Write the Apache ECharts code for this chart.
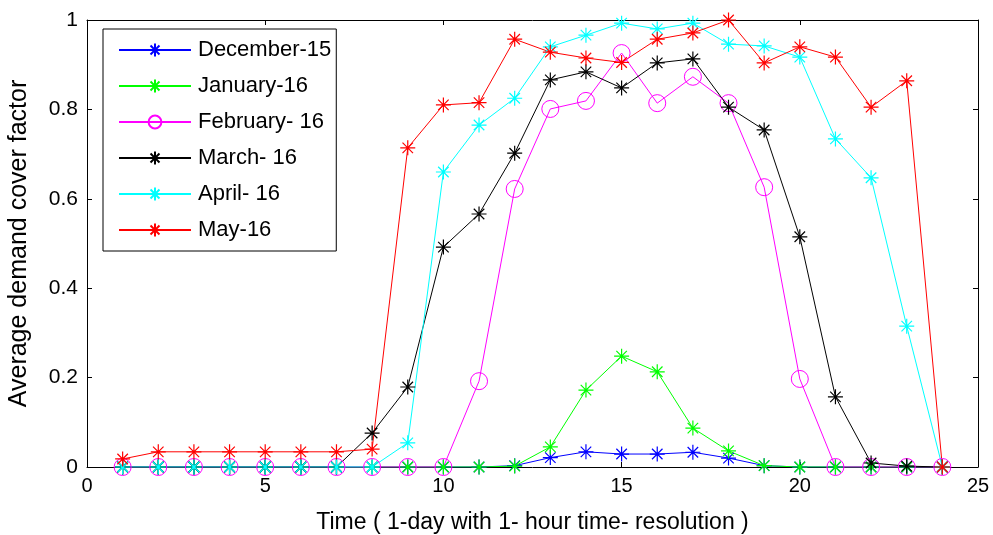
<!DOCTYPE html>
<html><head><meta charset="utf-8">
<script src="https://cdn.jsdelivr.net/npm/echarts@6/dist/echarts.min.js"></script>
<style>html,body{margin:0;padding:0;background:#fff}#c{width:993px;height:535px}</style>
</head><body><div id="c"></div>
<script>
const hours = [1,2,3,4,5,6,7,8,9,10,11,12,13,14,15,16,17,18,19,20,21,22,23,24];
const dec15 = [0,0,0,0,0,0,0,0,0,0,0,0.003,0.021,0.034,0.029,0.029,0.033,0.02,0.003,0,0,0,0,0];
const jan16 = [0,0,0,0,0,0,0,0,0,0,0,0.002,0.045,0.172,0.248,0.213,0.087,0.036,0.003,0,0,0,0,0];
const feb16 = [0,0,0,0,0,0,0,0,0,0,0.192,0.622,0.801,0.819,0.926,0.814,0.873,0.814,0.626,0.197,0,0,0,0];
const mar16 = [0,0,0,0,0,0,0,0.076,0.179,0.492,0.566,0.702,0.866,0.884,0.848,0.904,0.913,0.805,0.754,0.515,0.157,0.009,0.002,0];
const apr16 = [0,0,0,0,0,0,0,0,0.054,0.66,0.765,0.825,0.94,0.966,0.993,0.98,0.993,0.946,0.942,0.917,0.734,0.647,0.315,0];
const may16 = [0.018,0.034,0.034,0.034,0.034,0.034,0.034,0.04,0.714,0.81,0.815,0.957,0.928,0.915,0.905,0.957,0.971,1.0,0.904,0.94,0.917,0.805,0.864,0];
const seriesNames = ['December-15','January-16','February- 16','March- 16','April- 16','May-16'];
const seriesData = [dec15, jan16, feb16, mar16, apr16, may16];
const seriesColors = ['#0000ff','#00ff00','#ff00ff','#000000','#00ffff','#ff0000'];
const xTicks = [0,5,10,15,20,25];
const yTicks = [0,0.2,0.4,0.6,0.8,1];

const star = 'path://M0,5L10,5M5,0L5,10M1.5,1.5L8.5,8.5M1.5,8.5L8.5,1.5';
const font = 'Liberation Sans, Arial, sans-serif';
const chart = echarts.init(document.getElementById('c'));
const axisCommon = {
  axisLine:{show:true,onZero:false,lineStyle:{color:'#000',width:1}},
  axisTick:{show:true,inside:true,length:5,lineStyle:{color:'#000'}},
  splitLine:{show:false}
};
chart.setOption({
  animation:false,
  backgroundColor:'#fff',
  grid:{left:87,right:15,top:20,bottom:68,show:false,containLabel:false,outerBoundsMode:'none'},
  legend:{
    orient:'vertical',left:103,top:29,
    data:seriesNames,
    backgroundColor:'#fff',borderColor:'#000',borderWidth:1,borderRadius:0,
    padding:[10,5,10,15],itemWidth:72,itemHeight:16,itemGap:14,
    textStyle:{fontFamily:font,fontSize:22,lineHeight:22,color:'#000',padding:[0,0,0,2]}
  },
  xAxis:[
    Object.assign({type:'value',min:0,max:25,interval:5,position:'bottom',
      name:'Time ( 1-day with 1- hour time- resolution )',nameLocation:'middle',nameGap:44,
      nameTextStyle:{fontFamily:font,fontSize:23,color:'#000'},
      axisLabel:{fontFamily:font,fontSize:20,color:'#000',margin:9,formatter:v=>xTicks.includes(v)?String(v):''}},axisCommon),
    Object.assign({type:'value',min:0,max:25,interval:5,position:'top',axisLabel:{show:false}},axisCommon)
  ],
  yAxis:[
    Object.assign({type:'value',min:0,max:1,interval:0.2,position:'left',
      name:'Average demand cover factor',nameLocation:'middle',nameGap:55,
      nameTextStyle:{fontFamily:font,fontSize:25,color:'#000'},
      axisLabel:{fontFamily:font,fontSize:21,color:'#000',margin:9,formatter:v=>{const t=yTicks.find(y=>Math.abs(y-v)<1e-9);return t===undefined?'':String(Math.round(t*10)/10);}}},axisCommon),
    Object.assign({type:'value',min:0,max:1,interval:0.2,position:'right',axisLabel:{show:false}},axisCommon)
  ],
  series:seriesData.map((d,i)=>({
    name:seriesNames[i],type:'line',
    data:hours.map((h,j)=>[h,d[j]]),
    symbol: i===2 ? 'circle' : star,
    symbolSize: i===2 ? 17 : 15,
    showAllSymbol:true,
    lineStyle:{color:seriesColors[i],width:1},
    itemStyle: i===2 ? {color:'rgba(0,0,0,0)',borderColor:seriesColors[i],borderWidth:1}
                     : {color:'rgba(0,0,0,0)',borderColor:seriesColors[i],borderWidth:1.2},
    emphasis:{disabled:true}
  }))
});
</script></body></html>
